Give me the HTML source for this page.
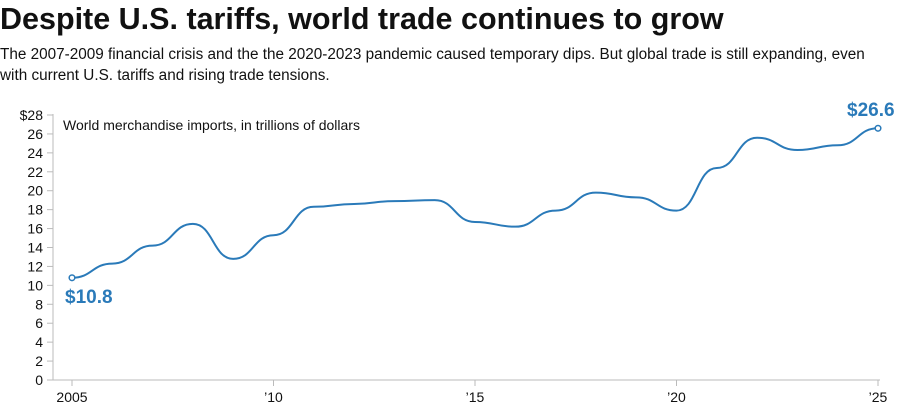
<!DOCTYPE html>
<html><head><meta charset="utf-8"><style>
body{margin:0;width:900px;height:419px;background:#fff;font-family:"Liberation Sans",sans-serif;overflow:hidden}
h1{position:absolute;left:0;top:2px;margin:0;font-size:30.5px;font-weight:bold;color:#111;letter-spacing:0}
p{position:absolute;left:0;top:44px;margin:0;font-size:15.3px;line-height:21px;color:#111;width:870px}
</style></head><body>
<h1>Despite U.S. tariffs, world trade continues to grow</h1>
<p>The 2007-2009 financial crisis and the the 2020-2023 pandemic caused temporary dips. But global trade is still expanding, even with current U.S. tariffs and rising trade tensions.</p>
<svg width="900" height="419" style="position:absolute;left:0;top:0" id="s">
<g id="ax" stroke="#bbb" stroke-width="1"></g>
<g id="lab" font-family="Liberation Sans,sans-serif" font-size="14" fill="#111"></g>
<text x="63" y="130" font-size="14" fill="#111" font-family="Liberation Sans,sans-serif">World merchandise imports, in trillions of dollars</text>
<path id="ln" fill="none" stroke="#2a7ab9" stroke-width="2"/>
<circle cx="72" cy="277.8" r="2.8" fill="#fff" stroke="#2a7ab9" stroke-width="1.5"/>
<circle cx="878" cy="128.3" r="2.8" fill="#fff" stroke="#2a7ab9" stroke-width="1.5"/>
<text x="65" y="303" font-size="19" font-weight="bold" fill="#2a7ab9" font-family="Liberation Sans,sans-serif">$10.8</text>
<text x="847" y="116" font-size="19" font-weight="bold" fill="#2a7ab9" font-family="Liberation Sans,sans-serif">$26.6</text>
</svg>
<script>
var ns="http://www.w3.org/2000/svg";
function Y(v){return 380-9.464*v}
function X(y){return 72+40.3*(y-2005)}
var ax=document.getElementById('ax'),lab=document.getElementById('lab');
function el(p,t,a,txt){var e=document.createElementNS(ns,t);for(var k in a)e.setAttribute(k,a[k]);if(txt)e.textContent=txt;p.appendChild(e);}
el(ax,'line',{x1:53,y1:114,x2:53,y2:380});
el(ax,'line',{x1:53,y1:380,x2:880,y2:380});
for(var v=0;v<=28;v+=2){el(ax,'line',{x1:47,y1:Y(v),x2:53,y2:Y(v)});el(lab,'text',{x:43,y:Y(v)+5,'text-anchor':'end'},(v==28?'$':'')+v);}
var yl={2005:'2005',2010:'\u201910',2015:'\u201915',2020:'\u201920',2025:'\u201925'};
for(var y in yl){el(ax,'line',{x1:X(+y),y1:380,x2:X(+y),y2:386});el(lab,'text',{x:X(+y),y:402,'text-anchor':'middle'},yl[y]);}
var d=[10.8,12.3,14.2,16.5,12.8,15.3,18.3,18.6,18.9,19.0,16.7,16.2,17.9,19.8,19.3,17.9,22.4,25.6,24.3,24.8,26.6];
var s='M'+X(2005)+','+Y(d[0]);
for(var i=1;i<d.length;i++){var x0=X(2004+i),x1=X(2005+i),h=(x1-x0)/2;
s+=' C'+(x0+h)+','+Y(d[i-1])+' '+(x1-h)+','+Y(d[i])+' '+x1+','+Y(d[i]);}
document.getElementById('ln').setAttribute('d',s);
</script>
</body></html>
